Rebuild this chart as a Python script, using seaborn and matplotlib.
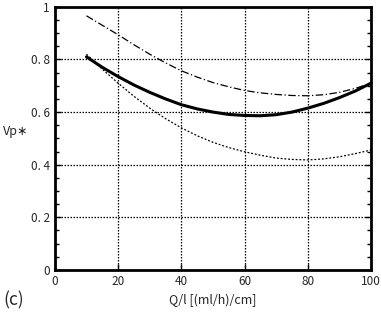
import numpy as np
import pandas as pd
import matplotlib
matplotlib.use('Agg')
import matplotlib.pyplot as plt
import seaborn as sns
from matplotlib.ticker import MultipleLocator

sns.set_style('white')
plt.rcParams['font.family'] = ['Noto Sans CJK JP', 'DejaVu Sans']

# values
q = [10, 15, 20, 25, 30, 35, 40, 45, 50, 55, 60, 65, 70, 75, 80, 85, 90, 95, 100]
vp_solid = [0.81, 0.77, 0.735, 0.703, 0.675, 0.650, 0.628, 0.612, 0.600, 0.591, 0.587,
            0.586, 0.590, 0.600, 0.615, 0.633, 0.655, 0.680, 0.71]
vp_dashdot = [0.966, 0.93, 0.894, 0.856, 0.82, 0.787, 0.757, 0.733, 0.712, 0.696, 0.682,
              0.673, 0.667, 0.663, 0.662, 0.666, 0.675, 0.69, 0.71]
vp_dotted = [0.82, 0.763, 0.71, 0.66, 0.615, 0.575, 0.54, 0.51, 0.485, 0.465, 0.449,
             0.436, 0.425, 0.42, 0.418, 0.422, 0.43, 0.442, 0.456]
x_ticks = [0, 20, 40, 60, 80, 100]
y_ticks = [0, 0.2, 0.4, 0.6, 0.8, 1.0]
y_labels = ['0', '0. 2', '0. 4', '0. 6', '0. 8', '1']

df = pd.DataFrame({'q': q, 'solid': vp_solid, 'dashdot': vp_dashdot, 'dotted': vp_dotted})

fig = plt.figure(figsize=(3.81, 3.12), dpi=100)
ax = fig.add_axes([0.144, 0.135, 0.830, 0.843])

sns.lineplot(data=df, x='q', y='dashdot', ax=ax, color='black', lw=0.9,
             linestyle=(0, (6, 2, 1, 2)))
sns.lineplot(data=df, x='q', y='dotted', ax=ax, color='black', lw=0.9,
             linestyle=(0, (1.5, 1.5)))
sns.lineplot(data=df, x='q', y='solid', ax=ax, color='black', lw=2.2)

ax.set_xticks(x_ticks)
ax.set_xticklabels([str(t) for t in x_ticks])
ax.set_yticks(y_ticks)
ax.set_yticklabels(y_labels)
ax.yaxis.set_minor_locator(MultipleLocator(0.05))
ax.set_xlim(0, 100)
ax.set_ylim(0, 1)
ax.tick_params(which='both', direction='in', right=True, top=False, bottom=True, left=True,
               labelsize=8.5, color='black')
ax.tick_params(which='major', length=4, width=1)
ax.tick_params(which='minor', length=3, width=1)
ax.grid(True, which='major', color='black', linestyle=(0, (1.2, 1.2)), lw=0.9)

for s in ax.spines.values():
    s.set_color('black')
    s.set_linewidth(2)

ax.set_xlabel('Q/l [(ml/h)/cm]', fontsize=9, labelpad=4)
ax.set_ylabel('Vp\u2217', fontsize=9, rotation=0, ha='center', va='center')
ax.yaxis.set_label_coords(-0.123, 0.525)
fig.text(0.008, 0.02, '(c)', fontsize=12.5)

fig.savefig('out.png', dpi=100)
